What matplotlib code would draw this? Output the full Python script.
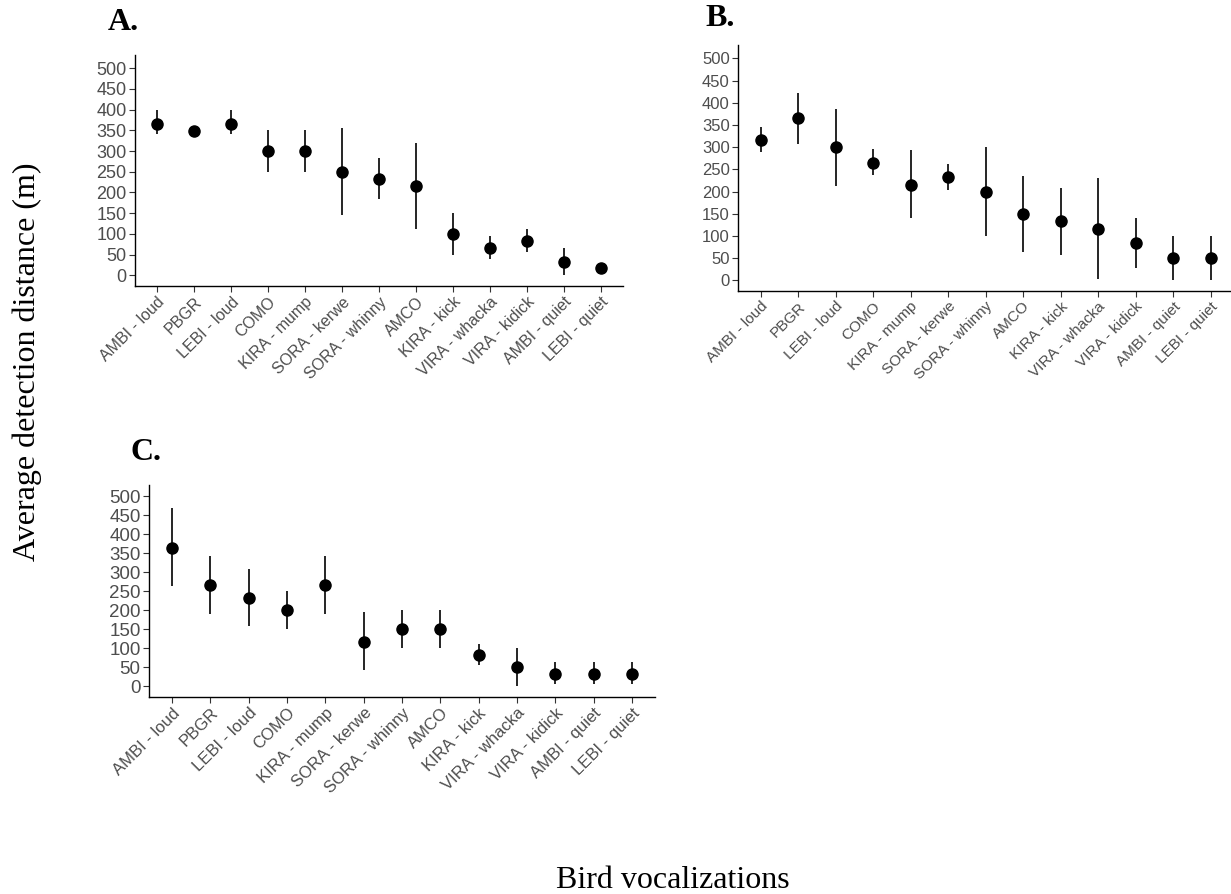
import numpy as np
import matplotlib
matplotlib.use("Agg")
import matplotlib.pyplot as plt

# --- data ---
calls = ["AMBI - loud", "PBGR", "LEBI - loud", "COMO", "KIRA - mump",
         "SORA - kerwe", "SORA - whinny", "AMCO", "KIRA - kick",
         "VIRA - whacka", "VIRA - kidick", "AMBI - quiet", "LEBI - quiet"]

a_mean = [365, 348, 365, 300, 300, 250, 233, 215, 100, 67, 83, 33, 17]
a_low = [340, 348, 340, 250, 250, 145, 183, 112, 50, 40, 57, 0, 17]
a_high = [398, 348, 398, 350, 350, 355, 283, 320, 150, 95, 112, 67, 17]

b_mean = [315, 365, 300, 265, 215, 232, 200, 150, 133, 115, 83, 50, 50]
b_low = [288, 308, 213, 238, 140, 203, 100, 64, 57, 2, 27, 0, 0]
b_high = [345, 423, 386, 295, 293, 261, 300, 236, 209, 230, 140, 100, 100]

c_mean = [365, 267, 233, 200, 267, 118, 150, 150, 83, 50, 33, 33, 33]
c_low = [263, 190, 158, 150, 190, 42, 100, 100, 57, 0, 5, 5, 5]
c_high = [470, 343, 310, 250, 343, 195, 200, 200, 112, 100, 63, 63, 63]

yticks = list(range(0, 501, 50))

W, H = 1231, 894
fig = plt.figure(figsize=(W / 100, H / 100), dpi=100)

SANS = "Liberation Sans"
SERIF = "Liberation Serif"
GREY = "#4D4D4D"


def px_axes(left, top, right, bottom):
    return fig.add_axes([left / W, 1 - bottom / H, (right - left) / W, (bottom - top) / H])


def panel(ax, mean, low, high, ylim, tick_fs, xtick_fs):
    x = np.arange(len(calls))
    ax.vlines(x, low, high, color="black", lw=1.2)
    ax.plot(x, mean, "o", color="black", ms=8)
    ax.set_xlim(-0.6, len(calls) - 0.4)
    ax.set_ylim(*ylim)
    ax.set_yticks(yticks)
    ax.set_xticks(x)
    ax.set_xticklabels(calls, rotation=45, ha="right", rotation_mode="anchor",
                       fontsize=xtick_fs, family=SANS, color=GREY)
    for lab in ax.get_yticklabels():
        lab.set_family(SANS)
        lab.set_fontsize(tick_fs)
        lab.set_color(GREY)
    for s in ["top", "right"]:
        ax.spines[s].set_visible(False)
    for s in ["left", "bottom"]:
        ax.spines[s].set_linewidth(1.0)
        ax.spines[s].set_color("black")
    ax.tick_params(axis="both", length=4, width=0.8, color="#333333", pad=2)


axA = px_axes(135, 55, 623, 286)
panel(axA, a_mean, a_low, a_high, (-26, 532), 13, 11.5)
axB = px_axes(738, 45, 1233, 291)
panel(axB, b_mean, b_low, b_high, (-24, 530), 12, 11)
axC = px_axes(149, 485, 655, 697)
panel(axC, c_mean, c_low, c_high, (-28, 530), 13.5, 12)

fig.text(108 / W, 1 - 23 / H, "A.", family=SERIF, weight="bold", fontsize=23,
         ha="left", va="center")
fig.text(705 / W, 1 - 19 / H, "B.", family=SERIF, weight="bold", fontsize=23,
         ha="left", va="center")
fig.text(130 / W, 1 - 453 / H, "C.", family=SERIF, weight="bold", fontsize=23,
         ha="left", va="center")

fig.text(27 / W, 1 - 362 / H, "Average detection distance (m)", family=SERIF,
         fontsize=23, rotation=90, ha="center", va="center")
fig.text(673 / W, 1 - 880 / H, "Bird vocalizations", family=SERIF,
         fontsize=23, ha="center", va="center")

fig.savefig("out.png", dpi=100)
